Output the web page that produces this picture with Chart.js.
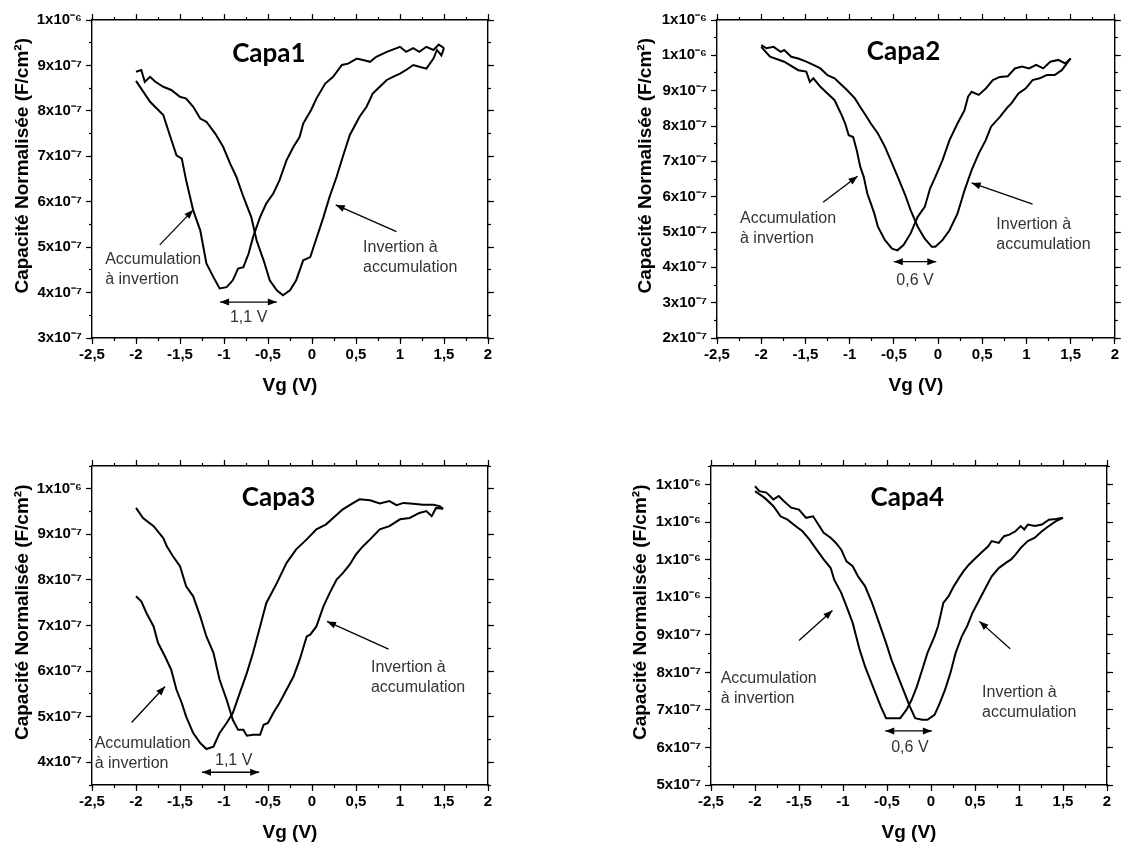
<!DOCTYPE html>
<html lang="fr">
<head>
<meta charset="UTF-8">
<title>Capacité normalisée - Capa1 à Capa4</title>
<script src="https://cdn.jsdelivr.net/npm/chart.js"></script>
<style>
  html, body { margin: 0; padding: 0; background: #fff; }
  #board { position: relative; width: 1121px; height: 846px; background: #fff; overflow: hidden; }
  #board canvas { position: absolute; }
</style>
</head>
<body>
<div id="board">
  <canvas id="capa1" width="560" height="423" style="left:0;top:0"></canvas>
  <canvas id="capa2" width="561" height="423" style="left:560px;top:0"></canvas>
  <canvas id="capa3" width="560" height="423" style="left:0;top:423px"></canvas>
  <canvas id="capa4" width="561" height="423" style="left:560px;top:423px"></canvas>
</div>
<script>
// C-V sweeps, points are [Vg in V, capacitance in 1e-7 F/cm²]
// "acc" = accumulation -> inversion sweep, "inv" = inversion -> accumulation sweep
const capa1Acc = [[-2.00,8.66],[-1.84,8.20],[-1.69,7.91],[-1.61,7.43],[-1.54,7.02],[-1.48,6.95],[-1.43,6.47],[-1.35,5.81],[-1.27,5.37],[-1.20,4.64],[-1.12,4.34],[-1.05,4.09],[-0.97,4.12],[-0.90,4.27],[-0.84,4.53],[-0.78,4.56],[-0.72,4.86],[-0.67,5.22],[-0.59,5.66],[-0.52,5.96],[-0.44,6.18],[-0.37,6.47],[-0.29,6.91],[-0.21,7.21],[-0.14,7.43],[-0.10,7.72],[-0.01,8.02],[0.05,8.27],[0.15,8.60],[0.24,8.75],[0.34,9.01],[0.41,9.04],[0.51,9.15],[0.58,9.12],[0.66,9.08],[0.73,9.19],[0.85,9.30],[1.00,9.41],[1.07,9.30],[1.15,9.38],[1.22,9.30],[1.30,9.41],[1.38,9.34],[1.44,9.46],[1.50,9.38]];
const capa1Inv = [[-2.00,8.86],[-1.94,8.90],[-1.90,8.64],[-1.84,8.75],[-1.78,8.64],[-1.69,8.53],[-1.60,8.46],[-1.50,8.31],[-1.43,8.27],[-1.35,8.09],[-1.27,7.83],[-1.20,7.76],[-1.10,7.50],[-1.01,7.21],[-0.93,6.84],[-0.86,6.55],[-0.78,6.11],[-0.69,5.66],[-0.63,5.15],[-0.55,4.71],[-0.48,4.27],[-0.40,4.05],[-0.33,3.94],[-0.25,4.05],[-0.18,4.27],[-0.10,4.71],[-0.02,4.78],[0.05,5.19],[0.13,5.66],[0.20,6.11],[0.28,6.55],[0.35,6.99],[0.43,7.47],[0.54,7.87],[0.62,8.09],[0.69,8.38],[0.77,8.53],[0.85,8.68],[0.92,8.75],[1.00,8.82],[1.07,8.90],[1.15,9.01],[1.22,8.97],[1.30,8.93],[1.38,9.15],[1.42,9.34],[1.47,9.22],[1.50,9.38]];

const capa2Acc = [[-2.00,10.24],[-1.90,9.96],[-1.74,9.82],[-1.58,9.58],[-1.49,9.54],[-1.45,9.25],[-1.41,9.35],[-1.33,9.11],[-1.25,8.92],[-1.17,8.73],[-1.09,8.31],[-1.05,8.07],[-1.01,7.74],[-0.96,7.69],[-0.92,7.32],[-0.88,6.85],[-0.84,6.56],[-0.80,6.09],[-0.76,5.81],[-0.72,5.52],[-0.68,5.15],[-0.60,4.77],[-0.52,4.53],[-0.46,4.48],[-0.39,4.63],[-0.31,4.96],[-0.23,5.43],[-0.15,5.71],[-0.09,6.23],[-0.03,6.56],[0.05,7.03],[0.13,7.60],[0.22,8.07],[0.30,8.45],[0.34,8.83],[0.38,8.97],[0.46,8.88],[0.54,9.06],[0.62,9.30],[0.70,9.39],[0.79,9.41],[0.87,9.63],[0.95,9.68],[1.03,9.63],[1.11,9.73],[1.19,9.63],[1.27,9.82],[1.36,9.87],[1.44,9.77],[1.50,9.91]];
const capa2Inv = [[-2.00,10.29],[-1.94,10.20],[-1.86,10.24],[-1.78,10.10],[-1.74,10.15],[-1.66,9.96],[-1.58,9.91],[-1.49,9.82],[-1.41,9.73],[-1.33,9.63],[-1.25,9.44],[-1.17,9.35],[-1.09,9.16],[-1.03,9.02],[-0.94,8.78],[-0.88,8.54],[-0.82,8.31],[-0.76,8.07],[-0.68,7.79],[-0.60,7.41],[-0.52,6.94],[-0.44,6.47],[-0.37,6.04],[-0.31,5.62],[-0.23,5.15],[-0.15,4.81],[-0.07,4.58],[-0.03,4.58],[0.05,4.77],[0.13,5.05],[0.22,5.52],[0.30,6.18],[0.38,6.75],[0.46,7.22],[0.54,7.60],[0.60,7.98],[0.70,8.26],[0.79,8.54],[0.83,8.64],[0.91,8.92],[0.99,9.06],[1.07,9.30],[1.15,9.35],[1.23,9.44],[1.32,9.44],[1.40,9.58],[1.50,9.91]];

const capa3Acc = [[-2.00,7.64],[-1.94,7.53],[-1.88,7.27],[-1.80,6.98],[-1.75,6.62],[-1.67,6.32],[-1.60,6.03],[-1.54,5.59],[-1.48,5.30],[-1.43,5.00],[-1.35,4.64],[-1.27,4.42],[-1.20,4.29],[-1.12,4.34],[-1.05,4.64],[-0.97,4.86],[-0.90,5.08],[-0.82,5.52],[-0.74,5.96],[-0.67,6.40],[-0.59,6.98],[-0.52,7.49],[-0.40,7.93],[-0.29,8.37],[-0.18,8.67],[-0.06,8.89],[0.05,9.11],[0.16,9.22],[0.24,9.36],[0.35,9.55],[0.47,9.69],[0.54,9.77],[0.66,9.75],[0.77,9.68],[0.88,9.73],[0.96,9.64],[1.04,9.69],[1.15,9.67],[1.26,9.65],[1.38,9.65],[1.45,9.62],[1.49,9.56]];
const capa3Inv = [[-2.00,9.58],[-1.92,9.36],[-1.80,9.18],[-1.69,8.92],[-1.65,8.74],[-1.58,8.52],[-1.50,8.30],[-1.43,7.86],[-1.35,7.64],[-1.27,7.20],[-1.20,6.76],[-1.12,6.40],[-1.05,5.81],[-0.97,5.37],[-0.90,4.93],[-0.84,4.71],[-0.78,4.71],[-0.74,4.58],[-0.67,4.60],[-0.59,4.60],[-0.55,4.82],[-0.50,4.86],[-0.44,5.08],[-0.37,5.30],[-0.29,5.59],[-0.21,5.88],[-0.14,6.25],[-0.06,6.76],[-0.02,6.80],[0.05,6.98],[0.13,7.42],[0.20,7.71],[0.28,8.01],[0.35,8.15],[0.43,8.34],[0.50,8.56],[0.58,8.74],[0.66,8.89],[0.77,9.11],[0.88,9.18],[1.00,9.33],[1.11,9.36],[1.22,9.47],[1.30,9.51],[1.36,9.40],[1.41,9.58],[1.49,9.56]];

const capa4Acc = [[-2.00,12.83],[-1.89,12.65],[-1.79,12.43],[-1.71,12.16],[-1.63,12.07],[-1.54,11.90],[-1.46,11.76],[-1.38,11.54],[-1.30,11.27],[-1.22,11.01],[-1.14,10.78],[-1.10,10.47],[-1.02,10.12],[-0.96,9.76],[-0.89,9.32],[-0.85,8.96],[-0.81,8.60],[-0.75,8.16],[-0.69,7.80],[-0.63,7.44],[-0.57,7.09],[-0.51,6.78],[-0.43,6.78],[-0.35,6.78],[-0.28,7.00],[-0.22,7.27],[-0.16,7.63],[-0.10,8.07],[-0.04,8.52],[0.04,8.96],[0.08,9.23],[0.14,9.85],[0.20,10.03],[0.26,10.30],[0.33,10.56],[0.37,10.70],[0.43,10.87],[0.49,11.01],[0.57,11.19],[0.65,11.36],[0.69,11.50],[0.77,11.45],[0.83,11.63],[0.89,11.67],[0.96,11.76],[1.02,11.90],[1.06,11.81],[1.10,11.94],[1.18,11.90],[1.26,11.94],[1.34,12.07],[1.42,12.09],[1.50,12.12]];
const capa4Inv = [[-2.00,12.96],[-1.95,12.83],[-1.87,12.79],[-1.79,12.61],[-1.73,12.70],[-1.67,12.56],[-1.59,12.39],[-1.50,12.34],[-1.42,12.12],[-1.34,12.16],[-1.28,11.94],[-1.22,11.72],[-1.14,11.59],[-1.08,11.45],[-1.02,11.27],[-0.96,10.96],[-0.89,10.83],[-0.83,10.56],[-0.75,10.30],[-0.67,9.85],[-0.59,9.32],[-0.51,8.78],[-0.45,8.34],[-0.39,7.98],[-0.30,7.45],[-0.24,7.09],[-0.18,6.78],[-0.10,6.74],[-0.04,6.74],[0.04,6.87],[0.10,7.18],[0.16,7.54],[0.22,7.98],[0.28,8.52],[0.35,8.96],[0.41,9.23],[0.47,9.58],[0.53,9.85],[0.61,10.21],[0.69,10.56],[0.77,10.78],[0.85,10.92],[0.91,11.01],[0.96,11.14],[1.02,11.32],[1.10,11.50],[1.18,11.59],[1.26,11.76],[1.34,11.90],[1.42,12.03],[1.50,12.12]];

// axis ranges: Vg (V) and capacitance (1e-7 F/cm²)
const vgRange = [-2.5, 2];
const capa1Range = [3, 10];
const capa2Range = [2, 11];
const capa3Range = [3.5, 10.5];
const capa4Range = [5, 13.5];
const shiftLabels = ['1,1 V', '0,6 V', '1,1 V', '0,6 V'];
const panelTitles = ['Capa1', 'Capa2', 'Capa3', 'Capa4'];

Chart.defaults.font.family = '"Liberation Sans", Arial, sans-serif';
Chart.defaults.color = '#000';

const TITLE_FONT = 19;
const TITLE_HALF = TITLE_FONT * 1.2 / 2;

// plot frame in canvas pixels + where the axis titles sit
const panels = [
  { id: 'capa1', acc: capa1Acc, inv: capa1Inv, yr: capa1Range, w: 560, h: 423,
    box: { l: 92, t: 20, r: 488, b: 338, yTitle: 23, xTitle: 386 },
    notes: { title: [-0.49, 9.08], acc: [-2.35, 4.63], inv: [0.58, 4.90],
             accArrow: [[-1.73, 5.05], [-1.35, 5.82]], invArrow: [[0.96, 5.34], [0.27, 5.93]],
             span: [-1.045, -0.40, 3.79], spanText: [-0.72, 3.35] } },
  { id: 'capa2', acc: capa2Acc, inv: capa2Inv, yr: capa2Range, w: 561, h: 423,
    box: { l: 157, t: 20, r: 555, b: 338, yTitle: 86, xTitle: 386 },
    notes: { title: [-0.39, 9.87], acc: [-2.24, 5.25], inv: [0.66, 5.08],
             accArrow: [[-1.30, 5.84], [-0.91, 6.58]], invArrow: [[1.07, 5.79], [0.38, 6.39]],
             span: [-0.50, -0.02, 4.16], spanText: [-0.26, 3.50] } },
  { id: 'capa3', acc: capa3Acc, inv: capa3Inv, yr: capa3Range, w: 560, h: 423,
    box: { l: 92, t: 43, r: 488, b: 362, yTitle: 23, xTitle: 410 },
    notes: { title: [-0.38, 9.62], acc: [-2.47, 4.31], inv: [0.67, 5.99],
             accArrow: [[-2.05, 4.87], [-1.67, 5.66]], invArrow: [[0.87, 6.48], [0.17, 7.09]],
             span: [-1.25, -0.60, 3.78], spanText: [-0.89, 3.94] } },
  { id: 'capa4', acc: capa4Acc, inv: capa4Inv, yr: capa4Range, w: 561, h: 423,
    box: { l: 151, t: 43, r: 547, b: 362, yTitle: 81, xTitle: 410 },
    notes: { title: [-0.27, 12.43], acc: [-2.39, 7.73], inv: [0.58, 7.34],
             accArrow: [[-1.50, 8.85], [-1.12, 9.65]], invArrow: [[0.90, 8.63], [0.55, 9.36]],
             span: [-0.52, 0.01, 6.44], spanText: [-0.24, 5.89] } }
];

function arrowHead(ctx, x1, y1, x2, y2) {
  const a = Math.atan2(y2 - y1, x2 - x1);
  const len = 9, half = 3.5;
  ctx.beginPath();
  ctx.moveTo(x2, y2);
  ctx.lineTo(x2 - len * Math.cos(a) + half * Math.sin(a), y2 - len * Math.sin(a) - half * Math.cos(a));
  ctx.lineTo(x2 - len * Math.cos(a) - half * Math.sin(a), y2 - len * Math.sin(a) + half * Math.cos(a));
  ctx.closePath();
  ctx.fill();
}

// text + arrows placed in data coordinates
const notesPlugin = {
  id: 'notes',
  afterDatasetsDraw(chart, args, o) {
    const { ctx, scales: { x, y } } = chart;
    const px = v => x.getPixelForValue(v);
    const py = v => y.getPixelForValue(v);
    ctx.save();
    ctx.fillStyle = '#000';
    ctx.textBaseline = 'alphabetic';

    ctx.font = 'bold 26px Lato, "Open Sans", sans-serif';
    ctx.textAlign = 'center';
    ctx.fillText(o.titleText, px(o.title[0]), py(o.title[1]));

    ctx.fillStyle = '#333';
    ctx.font = '16px "Liberation Sans", Arial, sans-serif';
    ctx.textAlign = 'left';
    ctx.fillText('Accumulation', px(o.acc[0]), py(o.acc[1]));
    ctx.fillText('à invertion', px(o.acc[0]), py(o.acc[1]) + 20);
    ctx.fillText('Invertion à', px(o.inv[0]), py(o.inv[1]));
    ctx.fillText('accumulation', px(o.inv[0]), py(o.inv[1]) + 20);
    ctx.textAlign = 'center';
    ctx.fillText(o.spanLabel, px(o.spanText[0]), py(o.spanText[1]));

    ctx.strokeStyle = '#000';
    ctx.fillStyle = '#000';
    ctx.lineWidth = 1.3;
    [o.accArrow, o.invArrow].forEach(([f, t]) => {
      const x1 = px(f[0]), y1 = py(f[1]), x2 = px(t[0]), y2 = py(t[1]);
      ctx.beginPath(); ctx.moveTo(x1, y1); ctx.lineTo(x2, y2); ctx.stroke();
      arrowHead(ctx, x1, y1, x2, y2);
    });
    const sx1 = px(o.span[0]), sx2 = px(o.span[1]), sy = py(o.span[2]);
    ctx.beginPath(); ctx.moveTo(sx1, sy); ctx.lineTo(sx2, sy); ctx.stroke();
    arrowHead(ctx, sx1, sy, sx2, sy);
    arrowHead(ctx, sx2, sy, sx1, sy);
    ctx.restore();
  }
};

const vgLabel = v => String(v).replace('.', ',');
const capLabel = v => v >= 10 ? Math.round(v / 10) + 'x10\u207B\u2076' : Math.round(v) + 'x10\u207B\u2077';

// tick values on whole multiples of the step inside the range
function stepTicks(range, step) {
  const out = [];
  for (let v = Math.ceil(range[0] / step - 1e-9) * step; v <= range[1] + 1e-9; v += step) {
    out.push({ value: Math.round(v * 1000) / 1000 });
  }
  return out;
}

function side(position, weight, range, step, tickLen, size, showBorder) {
  const horiz = position === 'top' || position === 'bottom';
  return {
    type: 'linear', position, weight, min: range[0], max: range[1],
    grid: { drawOnChartArea: false, drawTicks: true, tickLength: tickLen, tickColor: '#000', tickWidth: 1.2, color: '#000' },
    border: { display: showBorder, color: '#000', width: 1.4 },
    ticks: { stepSize: step, autoSkip: false, display: false },
    title: { display: false },
    afterBuildTicks: s => { s.ticks = stepTicks(range, step); },
    afterFit: s => { if (horiz) s.height = size; else s.width = size; }
  };
}

panels.forEach((p, i) => {
  const b = p.box;
  const padLeft = b.yTitle - TITLE_HALF;
  const xBottom = b.xTitle + TITLE_HALF;

  const x = side('bottom', 1, vgRange, 0.5, 6, xBottom - b.b, true);
  x.ticks = { stepSize: 0.5, autoSkip: false, padding: 2,
              font: { size: 15, weight: 'bold' }, maxRotation: 0, callback: vgLabel };
  x.title = { display: true, text: 'Vg (V)', padding: 0, font: { size: TITLE_FONT, weight: 'bold' } };

  const y = side('left', 1, p.yr, 1, 6, b.l - padLeft, true);
  y.ticks = { stepSize: 1, autoSkip: false, padding: 4,
              font: { size: 15, weight: 'bold' }, callback: capLabel };
  y.title = { display: true, text: '     Capacité Normalisée (F/cm²)', padding: 0,
              font: { size: TITLE_FONT, weight: 'bold' } };

  new Chart(document.getElementById(p.id), {
    type: 'scatter',
    data: {
      datasets: [p.acc, p.inv].map(pts => ({
        data: pts.map(([vx, vy]) => ({ x: vx, y: vy })),
        showLine: true, borderColor: '#000', borderWidth: 2, pointRadius: 0, tension: 0
      }))
    },
    options: {
      responsive: false, animation: false, events: [],
      layout: { padding: { left: padLeft, top: 0, right: 0, bottom: p.h - xBottom } },
      plugins: {
        legend: { display: false }, tooltip: { enabled: false },
        notes: Object.assign({ titleText: panelTitles[i], spanLabel: shiftLabels[i] }, p.notes)
      },
      scales: {
        x,
        xMinor: side('bottom', 0, vgRange, 0.25, 3, 0, false),
        xTop: side('top', 1, vgRange, 0.5, 6, b.t, true),
        xTopMinor: side('top', 0, vgRange, 0.25, 3, 0, false),
        y,
        yMinor: side('left', 0, p.yr, 0.5, 3, 0, false),
        yRight: side('right', 1, p.yr, 1, 6, p.w - b.r, true),
        yRightMinor: side('right', 0, p.yr, 0.5, 3, 0, false)
      }
    },
    plugins: [notesPlugin]
  });
});
</script>
</body>
</html>
